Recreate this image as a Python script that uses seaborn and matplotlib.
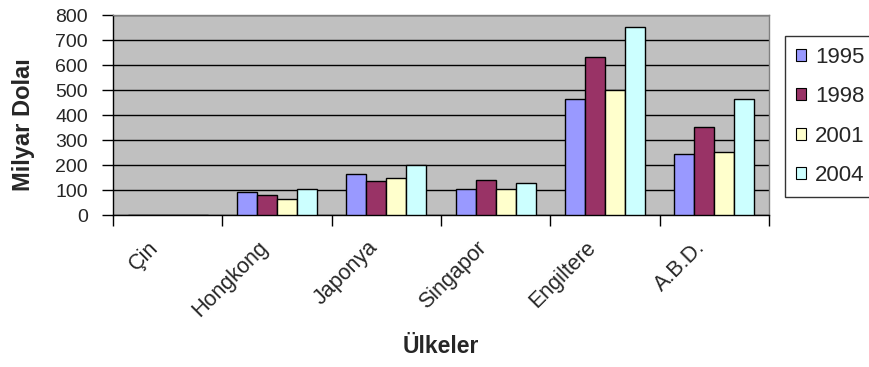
import matplotlib
matplotlib.use("Agg")
import matplotlib.pyplot as plt
from matplotlib.ticker import FixedLocator, NullFormatter
from matplotlib.transforms import ScaledTranslation, blended_transform_factory
import pandas as pd
import seaborn as sns

# Country categories and yearly values (billion dollars)
countries = ["Çin", "Hongkong", "Japonya", "Singapor", "Engiltere", "A.B.D."]
years = ["1995", "1998", "2001", "2004"]
v1995 = [0, 94, 165, 104, 463, 247]
v1998 = [0, 83, 137, 143, 634, 352]
v2001 = [0, 67, 151, 104, 500, 254]
v2004 = [0, 104, 200, 130, 753, 463]
y_ticks = [0, 100, 200, 300, 400, 500, 600, 700, 800]

colors = ["#9999FF", "#993366", "#FFFFCC", "#CCFFFF"]

rows = []
for year, vals in zip(years, [v1995, v1998, v2001, v2004]):
    for c, v in zip(countries, vals):
        rows.append({"Ülkeler": c, "Yıl": year, "Değer": v})
df = pd.DataFrame(rows)

sns.set_theme(style="white")
plt.rcParams["font.family"] = ["Liberation Sans", "DejaVu Sans"]

fig = plt.figure(figsize=(8.69, 3.67), dpi=100)
ax = fig.add_axes([113 / 869, 1 - 215.5 / 367, (769 - 113) / 869, (215.5 - 15) / 367])
ax.set_facecolor("#C0C0C0")

sns.barplot(data=df, x="Ülkeler", y="Değer", hue="Yıl", order=countries,
            hue_order=years, palette=colors, width=0.73, gap=0,
            edgecolor="black", linewidth=1.0, saturation=1, ax=ax, zorder=3)

ax.set_ylim(0, 800)
ax.set_xlim(-0.5, len(countries) - 0.5)
ax.set_yticks(y_ticks)
ax.set_yticklabels([str(t) for t in y_ticks], fontsize=14)
ax.yaxis.grid(True, color="black", linewidth=1.0, zorder=0)
ax.set_axisbelow(True)

# Category names, rotated, hanging below the axis; ticks at category boundaries
ax.set_xticks(range(len(countries)))
ax.set_xticklabels([])
ax.tick_params(axis="x", which="major", length=0)
label_tf = blended_transform_factory(ax.transData, ax.transAxes) + \
    ScaledTranslation(-0.12, -0.29, fig.dpi_scale_trans)
for i, name in enumerate(countries):
    ax.text(i, 0, name, transform=label_tf, rotation=45, ha="right",
            va="center", rotation_mode="anchor", fontsize=15.5)
ax.xaxis.set_minor_locator(FixedLocator([i - 0.5 for i in range(len(countries) + 1)]))
ax.xaxis.set_minor_formatter(NullFormatter())
ax.tick_params(axis="x", which="minor", length=8, width=1, color="black",
               direction="out", bottom=True)
ax.tick_params(axis="y", length=8, width=1, color="black", direction="out",
               left=True, pad=10)

for side in ["left", "bottom"]:
    ax.spines[side].set_color("black")
    ax.spines[side].set_linewidth(1.0)
for side in ["top", "right"]:
    ax.spines[side].set_color("#808080")
    ax.spines[side].set_linewidth(1.0)

ax.set_ylabel("Milyar Dolaı", fontsize=17, fontweight="bold")
ax.yaxis.label.set_va("center")
ax.yaxis.set_label_coords((24 - 113) / 656, 1 - (125 - 15) / 200.5)
ax.set_xlabel("Ülkeler", fontsize=16.5, fontweight="bold")
ax.xaxis.label.set_va("center")
ax.xaxis.set_label_coords((441 - 113) / 656, -(347 - 215.5) / 200.5)

leg = ax.legend(loc="upper left", bbox_to_anchor=(785 / 869, 1 - 36 / 367),
                bbox_transform=fig.transFigure, frameon=True, fancybox=False,
                fontsize=16, handlelength=0.45, handleheight=0.45,
                handletextpad=0.4, labelspacing=0.82, borderpad=0.5,
                borderaxespad=0)
leg.get_frame().set_edgecolor("black")
leg.get_frame().set_linewidth(1.0)
for h in leg.legend_handles:
    h.set_edgecolor("black")
    h.set_linewidth(0.8)

fig.savefig("out.png", dpi=100)
